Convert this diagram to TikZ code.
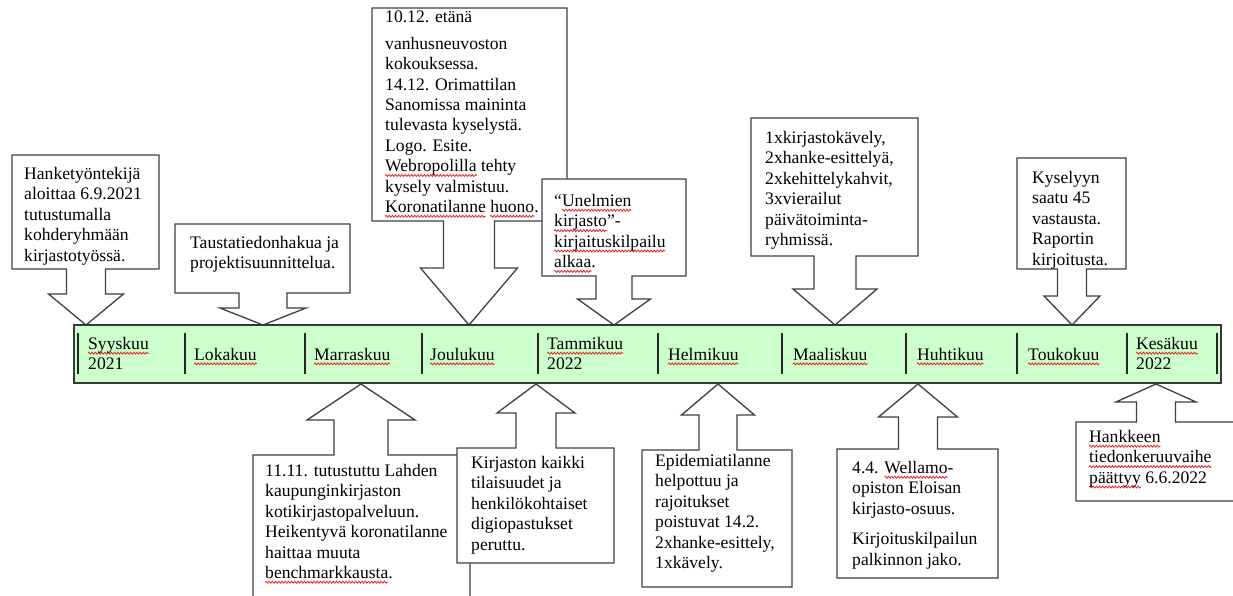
\documentclass[tikz,border=0pt]{standalone}
\usepackage{fontspec}
\setmainfont{Liberation Serif}
\usetikzlibrary{decorations.pathmorphing}
\definecolor{spell}{RGB}{230,30,30}
\definecolor{cogray}{RGB}{64,64,64}
\definecolor{barfill}{RGB}{204,255,204}
\newlength\sqw
\newcommand\sq[1]{\settowidth\sqw{#1}\tikz[overlay,x=1pt,y=1pt]\draw[spell,line width=0.75pt,decorate,decoration={zigzag,amplitude=1pt,segment length=3.2pt}] (0,-3.8) -- (\the\sqw,-3.8);#1}
\newcommand\fs{\fontsize{17.6}{20.4}\selectfont}
% L T R B tipx shafthalf winghalf wingy tipy
\newcommand\calldown[9]{%
 \path[co] (#1,#2) -- (#3,#2) -- (#3,#4) -- ({#5+#6},#4) -- ({#5+#6},#8) -- ({#5+#7},#8) -- (#5,#9) -- ({#5-#7},#8) -- ({#5-#6},#8) -- ({#5-#6},#4) -- (#1,#4) -- cycle;}
\newcommand\callup[9]{%
 \path[co] (#1,#2) -- ({#5-#6},#2) -- ({#5-#6},#8) -- ({#5-#7},#8) -- (#5,#9) -- ({#5+#7},#8) -- ({#5+#6},#8) -- ({#5+#6},#2) -- (#3,#2) -- (#3,#4) -- (#1,#4) -- cycle;}
\begin{document}
\begin{tikzpicture}[x=1pt,y=-1pt,
  co/.style={draw=cogray,fill=white,line width=1.3pt,line join=miter},
  txt/.style={anchor=north west,inner sep=0pt,align=left,font=\fs},
  mon/.style={anchor=west,inner sep=0pt,align=left,font=\fs},
  mon2/.style={anchor=north west,inner sep=0pt,align=left,font=\fs},
  divider/.style={draw=black!85,line width=1.4pt}]
\useasboundingbox (0,0) rectangle (1233,596);
\clip (0,0) rectangle (1233,596);
\fill[white] (0,0) rectangle (1233,596);

% callouts above
\calldown{12}{155}{159}{269}{86}{19.5}{37.5}{294}{325}
\calldown{175}{224}{350}{293}{263}{24}{43}{308}{325}
\calldown{372}{8}{567}{221}{469}{25.5}{48.5}{268}{325}
\calldown{542}{179}{686}{276}{614}{18}{36.5}{299}{325}
\calldown{751}{118}{918}{256}{835}{21}{42}{289}{325}
\calldown{1017}{158}{1126}{269}{1072}{14.5}{28}{296}{325}

% callouts below
\callup{253}{455}{470}{640}{361}{27}{54}{420}{384}
\callup{457}{448}{614}{563}{536}{20}{39}{413}{384}
\callup{642}{450}{792}{587}{718}{19}{36.5}{415}{384}
\callup{837}{449}{998}{578}{918}{19.5}{39.5}{417}{384}
\callup{1076}{422}{1280}{501}{1156}{19.5}{40}{402}{384}

% timeline bar
\draw[draw=black!78,fill=barfill,line width=2pt] (74,325) rectangle (1221,383);
\foreach \x in {78,185,305,422,538,658,782,906,1017,1127,1217}
  \draw[divider] (\x,333) -- (\x,374);

\node[mon2] (m1) at (88,337) {\sq{Syyskuu}\\2021};
\node[mon] (m2) at (194,354) {\sq{Lokakuu}};
\node[mon] (m3) at (314,354) {\sq{Marraskuu}};
\node[mon] (m4) at (430,354) {\sq{Joulukuu}};
\node[mon2] (m5) at (547,337) {\sq{Tammikuu}\\2022};
\node[mon] (m6) at (668,354) {\sq{Helmikuu}};
\node[mon] (m7) at (793,354) {\sq{Maaliskuu}};
\node[mon] (m8) at (917,354) {\sq{Huhtikuu}};
\node[mon] (m9) at (1028,354) {\sq{Toukokuu}};
\node[mon2] (m10) at (1136,337) {\sq{Kesäkuu}\\2022};

% texts
\node[txt] (t1) at (24,167) {Hanketyöntekijä\\aloittaa 6.9.2021\\tutustumalla\\kohderyhmään\\kirjastotyössä.};
\node[txt] (t2) at (190,236) {Taustatiedonhakua ja\\projektisuunnittelua.};
\node[txt] (t3) at (385,11) {10.12. etänä\\[6pt]vanhusneuvoston\\kokouksessa.\\14.12. Orimattilan\\Sanomissa maininta\\tulevasta kyselystä.\\Logo. Esite.\\\sq{Webropolilla} tehty\\kysely valmistuu.\\\sq{Koronatilanne} \sq{huono}.};
\node[txt] (t4) at (554,194) {“\sq{Unelmien}\\\sq{kirjasto}”-\\\sq{kirjaituskilpailu}\\\sq{alkaa}.};
\node[txt] (t5) at (765,131) {1xkirjastokävely,\\2xhanke-esittelyä,\\2xkehittelykahvit,\\3xvierailut\\päivätoiminta-\\ryhmissä.};
\node[txt] (t6) at (1032,171) {Kyselyyn\\saatu 45\\vastausta.\\Raportin\\kirjoitusta.};
\node[txt] (t7) at (265,464) {11.11. tutustuttu Lahden\\kaupunginkirjaston\\kotikirjastopalveluun.\\Heikentyvä koronatilanne\\haittaa muuta\\\sq{benchmarkkausta}.};
\node[txt] (t8) at (471,456) {Kirjaston kaikki\\tilaisuudet ja\\henkilökohtaiset\\digiopastukset\\peruttu.};
\node[txt] (t9) at (655,454) {Epidemiatilanne\\helpottuu ja\\rajoitukset\\poistuvat 14.2.\\2xhanke-esittely,\\1xkävely.};
\node[txt] (t10) at (852,461) {4.4. \sq{Wellamo}-\\opiston Eloisan\\kirjasto-osuus.\\[10pt]Kirjoituskilpailun\\palkinnon jako.};
\node[txt] (t11) at (1089,430) {\sq{Hankkeen}\\\sq{tiedonkeruuvaihe}\\\sq{päättyy} 6.6.2022};
\end{tikzpicture}
\end{document}
